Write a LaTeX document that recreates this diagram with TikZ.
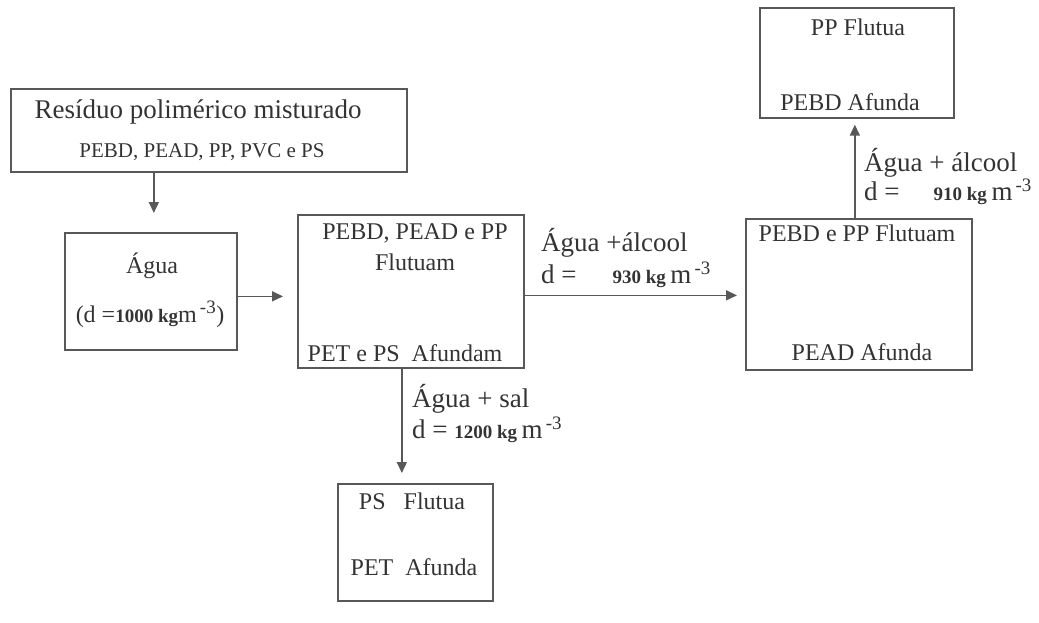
\documentclass[tikz,border=0pt]{standalone}
\usepackage{fontspec}
\setmainfont{Liberation Serif}
\usetikzlibrary{arrows.meta}
\definecolor{ink}{HTML}{333333}
\definecolor{edge}{HTML}{585858}
\newcommand{\bnum}[1]{{\fontsize{19}{22}\selectfont\bfseries #1}}
\newcommand{\sthree}{\textsuperscript{\fontsize{19}{20}\selectfont\,-3}}
\newcommand{\unitm}{\,m\sthree}
\tikzset{
  box/.style={draw=edge, line width=1.7pt, rectangle, anchor=north west, inner sep=0pt},
  txt/.style={text=ink, font=\fontsize{24}{28}\selectfont, inner sep=0pt},
  big/.style={txt, font=\fontsize{27}{32}\selectfont},
  lbl/.style={big, anchor=west},
  conn/.style={draw=edge, line width=1.6pt, -{Triangle[length=11pt,width=10pt]}}
}
\begin{document}
\begin{tikzpicture}[x=1pt,y=-1pt]
\useasboundingbox (0,0) rectangle (1039,623);
% boxes
\node[box, minimum width=396pt, minimum height=83pt] (res) at (10,88) {};
\node[box, minimum width=172pt, minimum height=117pt] (agua) at (64,232) {};
\node[box, minimum width=226pt, minimum height=153pt] (mid) at (297,214) {};
\node[box, minimum width=226pt, minimum height=151pt] (right) at (745,218) {};
\node[box, minimum width=194pt, minimum height=110pt] (top) at (759,7) {};
\node[box, minimum width=155pt, minimum height=117pt] (bot) at (337,483) {};
% texts
\node[big] (t1) at (198,112) {Resíduo polimérico misturado};
\node[txt, font=\fontsize{21}{24}\selectfont] (t2) at (202,152) {PEBD, PEAD, PP, PVC e PS};
\node[txt, font=\fontsize{24}{28}\selectfont] (t3) at (152,266) {Água};
\node[txt] (t4) at (150,314) {(d =\bnum{1000 kg}m\sthree)};
\node[txt] (t5) at (415,233) {PEBD, PEAD e PP};
\node[txt] (t6) at (415,262) {Flutuam};
\node[txt] (t7) at (405,353) {PET e PS\ \ Afundam};
\node[txt] (t8) at (857,233) {PEBD e PP Flutuam};
\node[txt] (t9) at (862,352) {PEAD Afunda};
\node[txt] (t10) at (858,27) {PP Flutua};
\node[txt] (t11) at (850,102) {PEBD Afunda};
\node[txt] (t12) at (412,501) {PS\ \ \ Flutua};
\node[txt] (t13) at (414,567) {PET\ \ Afunda};
% labels
\node[lbl] (l1) at (541,243) {Água +álcool};
\node[lbl] (l2) at (541,275) {d =\hspace{36pt}\bnum{930 kg}\unitm};
\node[lbl] (l3) at (412,399) {Água + sal};
\node[lbl] (l4) at (412,430) {d = \bnum{1200 kg}\unitm};
\node[lbl] (l5) at (864,163) {Água + álcool};
\node[lbl] (l6) at (864,192) {d =\hspace{34pt}\bnum{910 kg}\unitm};
% connectors
\draw[conn, shorten >=19pt] ([xshift=3pt]agua.north |- res.south) -- ([xshift=3pt]agua.north);
\draw[conn, shorten >=14pt] ([yshift=-5pt]agua.east) -- ([yshift=-5pt]agua.east -| mid.west);
\draw[conn, shorten >=8pt] ([yshift=-4pt]mid.east) -- ([yshift=-4pt]mid.east -| right.west);
\draw[conn, shorten >=6pt] ([xshift=-4pt]right.north) -- ([xshift=-4pt]right.north |- top.south);
\draw[conn, shorten >=10pt] ([xshift=-9pt]mid.south) -- ([xshift=-9pt]mid.south |- bot.north);
\end{tikzpicture}
\end{document}
